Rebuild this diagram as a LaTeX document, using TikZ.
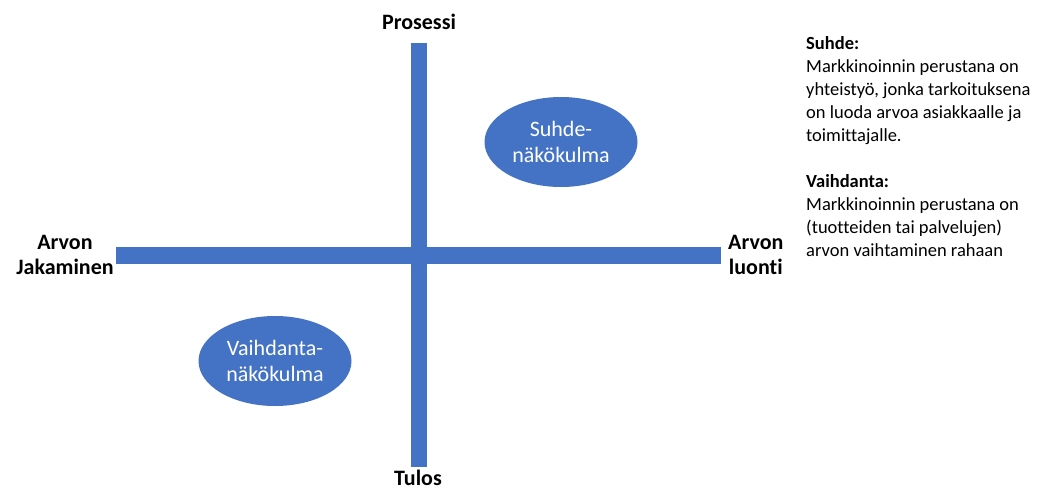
\documentclass[tikz,border=0pt]{standalone}
\usepackage{fontspec}
\setmainfont[Ligatures=NoCommon,RawFeature=-liga]{Carlito}
\usetikzlibrary{shapes.geometric}
\definecolor{obl}{HTML}{4472C4}
\begin{document}
\begin{tikzpicture}[x=1pt,y=-1pt,
  bar/.style={fill=obl,draw=none},
  axlabel/.style={font=\fontsize{22}{25}\selectfont\bfseries,align=center,inner sep=0pt},
  blob/.style={ellipse,fill=obl,draw=none,text=white,minimum width=153pt,minimum height=90pt,inner sep=0pt,align=center,font=\fontsize{22}{26}\selectfont},
  note/.style={font=\fontsize{18.5}{23}\selectfont,align=left,anchor=north west,inner sep=0pt}]
\useasboundingbox (0,0) rectangle (1038,491);
% axes
\fill[bar] (116,247) rectangle (721,264);
\fill[bar] (411,43) rectangle (427,467);
\node[axlabel] (pro) at (419,22) {Prosessi};
\node[axlabel] (tul) at (418,478) {Tulos};
\node[axlabel] (aj) at (65,255) {Arvon\\Jakaminen};
\node[axlabel,anchor=west] (al) at (728,255) {Arvon\\luonti};
% ellipses
\node[blob] (s) at (561,142) {Suhde-\\näkökulma};
\node[blob] (v) at (275,361) {Vaihdanta-\\näkökulma};
% notes
\node[note] (n) at (806,36) {\textbf{Suhde:}\\Markkinoinnin perustana on\\yhteistyö, jonka tarkoituksena\\on luoda arvoa asiakkaalle ja\\toimittajalle.\\[23pt]\textbf{Vaihdanta:}\\Markkinoinnin perustana on\\(tuotteiden tai palvelujen)\\arvon vaihtaminen rahaan};
\end{tikzpicture}
\end{document}
